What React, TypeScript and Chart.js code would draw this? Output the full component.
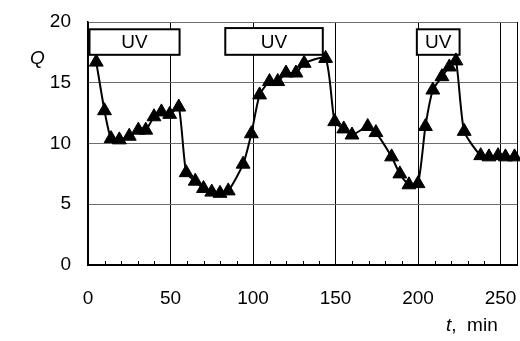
import React, { useEffect, useRef } from 'react';
import { Chart, registerables } from 'chart.js';

Chart.register(...registerables);

// time, min
const times = [
  5, 10, 14, 19, 25, 30.5, 35, 40, 44.5, 49.5, 55,
  59.5, 65, 70, 75, 80, 85, 94, 99, 104, 110, 115, 120, 126, 131, 144,
  149.5, 155, 160, 169.5, 174.5, 184, 189, 194.5, 200, 204.5, 209, 214.5, 219, 223, 228, 238, 243, 248.5, 253, 258.5,
];
// Q values
const qValues = [
  16.7, 12.7, 10.4, 10.3, 10.6, 11.1, 11.1, 12.2, 12.6, 12.4, 13.0,
  7.6, 6.9, 6.3, 6.0, 5.9, 6.1, 8.3, 10.8, 14.0, 15.1, 15.1, 15.8, 15.8, 16.6, 17.0,
  11.8, 11.2, 10.7, 11.4, 10.9, 8.9, 7.5, 6.6, 6.7, 11.4, 14.4, 15.5, 16.3, 16.8, 11.0, 9.0, 8.9, 9.0, 8.9, 8.9,
];

// UV annotation boxes (data units)
const uvStart = [0.9, 83.2, 199.3];
const uvEnd = [55.5, 142.3, 225.2];
const uvTop = [19.4, 19.5, 19.4];
const uvBottom = [17.3, 17.3, 17.3];
const uvLabel = 'UV';

const xMax = 260;
const xTickLabels = [0, 50, 100, 150, 200, 250];
const yTickLabels = [0, 5, 10, 15, 20];
const minorTicks = [10, 20, 30, 40, 60, 70, 80, 90, 110, 120, 130, 140, 160, 170, 180, 190, 210, 220, 230, 240];

const FONT = '"Liberation Sans", Arial, sans-serif';

const overlayPlugin = {
  id: 'overlay',
  beforeDatasetsDraw(chart: any) {
    const ctx = chart.ctx;
    const xs = chart.scales.x;
    const ys = chart.scales.y;
    ctx.save();
    // minor ticks on bottom axis
    ctx.strokeStyle = '#000';
    ctx.lineWidth = 1;
    const yb = ys.getPixelForValue(0);
    minorTicks.forEach((v) => {
      const px = Math.round(xs.getPixelForValue(v)) + 0.5;
      ctx.beginPath();
      ctx.moveTo(px, yb);
      ctx.lineTo(px, yb - 4);
      ctx.stroke();
    });
    // UV boxes
    for (let i = 0; i < uvStart.length; i++) {
      const x1 = xs.getPixelForValue(uvStart[i]);
      const x2 = xs.getPixelForValue(uvEnd[i]);
      const y1 = ys.getPixelForValue(uvTop[i]);
      const y2 = ys.getPixelForValue(uvBottom[i]);
      ctx.fillStyle = '#fff';
      ctx.fillRect(x1, y1, x2 - x1, y2 - y1);
      ctx.strokeStyle = '#000';
      ctx.lineWidth = 2;
      ctx.strokeRect(x1, y1, x2 - x1, y2 - y1);
      ctx.fillStyle = '#000';
      ctx.font = `19px ${FONT}`;
      ctx.textAlign = 'center';
      ctx.textBaseline = 'middle';
      ctx.fillText(uvLabel, (x1 + x2) / 2, (y1 + y2) / 2 + 1);
    }
    ctx.restore();
  },
  afterDraw(chart: any) {
    const ctx = chart.ctx;
    ctx.save();
    ctx.fillStyle = '#000';
    ctx.textBaseline = 'middle';
    ctx.textAlign = 'left';
    ctx.font = `italic 19px ${FONT}`;
    ctx.fillText('Q', 30, 59);
    ctx.fillText('t', 446, 326);
    const tw = ctx.measureText('t').width;
    ctx.font = `19px ${FONT}`;
    ctx.fillText(',  min', 446 + tw, 326);
    ctx.restore();
  },
};

export default function App() {
  const ref = useRef<HTMLCanvasElement>(null);
  useEffect(() => {
    if (!ref.current) return;
    const chart = new Chart(ref.current, {
      type: 'line',
      data: {
        datasets: [
          {
            data: times.map((t, i) => ({ x: t, y: qValues[i] })),
            borderColor: '#000',
            borderWidth: 2,
            backgroundColor: '#000',
            pointStyle: 'triangle',
            pointRadius: 8,
            pointBorderWidth: 1,
            pointBackgroundColor: '#000',
            pointBorderColor: '#000',
            tension: 0.2,
            clip: false,
          } as any,
        ],
      },
      options: {
        responsive: false,
        animation: false,
        layout: { autoPadding: false, padding: { top: 22, right: 3, left: 0, bottom: 0 } },
        plugins: { legend: { display: false }, tooltip: { enabled: false } },
        scales: {
          x: {
            type: 'linear',
            min: 0,
            max: xMax,
            afterBuildTicks: (s: any) => {
              s.ticks = [...xTickLabels, xMax].map((v) => ({ value: v }));
            },
            afterFit: (s: any) => {
              s.height = 76;
              s.paddingLeft = 0;
              s.paddingRight = 0;
            },
            ticks: {
              autoSkip: false,
              maxRotation: 0,
              padding: 22,
              color: '#000',
              font: { family: FONT, size: 19 },
              callback: (v: any) => (xTickLabels.includes(Number(v)) ? String(v) : ''),
            },
            grid: { color: '#000', lineWidth: 1, drawTicks: false },
            border: { color: '#000', width: 2 },
          },
          y: {
            min: 0,
            max: 20,
            afterBuildTicks: (s: any) => {
              s.ticks = yTickLabels.map((v) => ({ value: v }));
            },
            afterFit: (s: any) => {
              s.width = 88;
              s.paddingTop = 0;
              s.paddingBottom = 0;
            },
            ticks: {
              padding: 17,
              color: '#000',
              font: { family: FONT, size: 19 },
            },
            grid: { color: '#6e6e6e', lineWidth: 1, drawTicks: false },
            border: { color: '#000', width: 1.5 },
          },
        },
      },
      plugins: [overlayPlugin],
    });
    return () => chart.destroy();
  }, []);
  return (
    <div style={{ position: 'fixed', left: 0, top: 0, width: 520, height: 341, background: '#fff' }}>
      <canvas ref={ref} width={520} height={341} style={{ width: 520, height: 341 }} />
    </div>
  );
}
